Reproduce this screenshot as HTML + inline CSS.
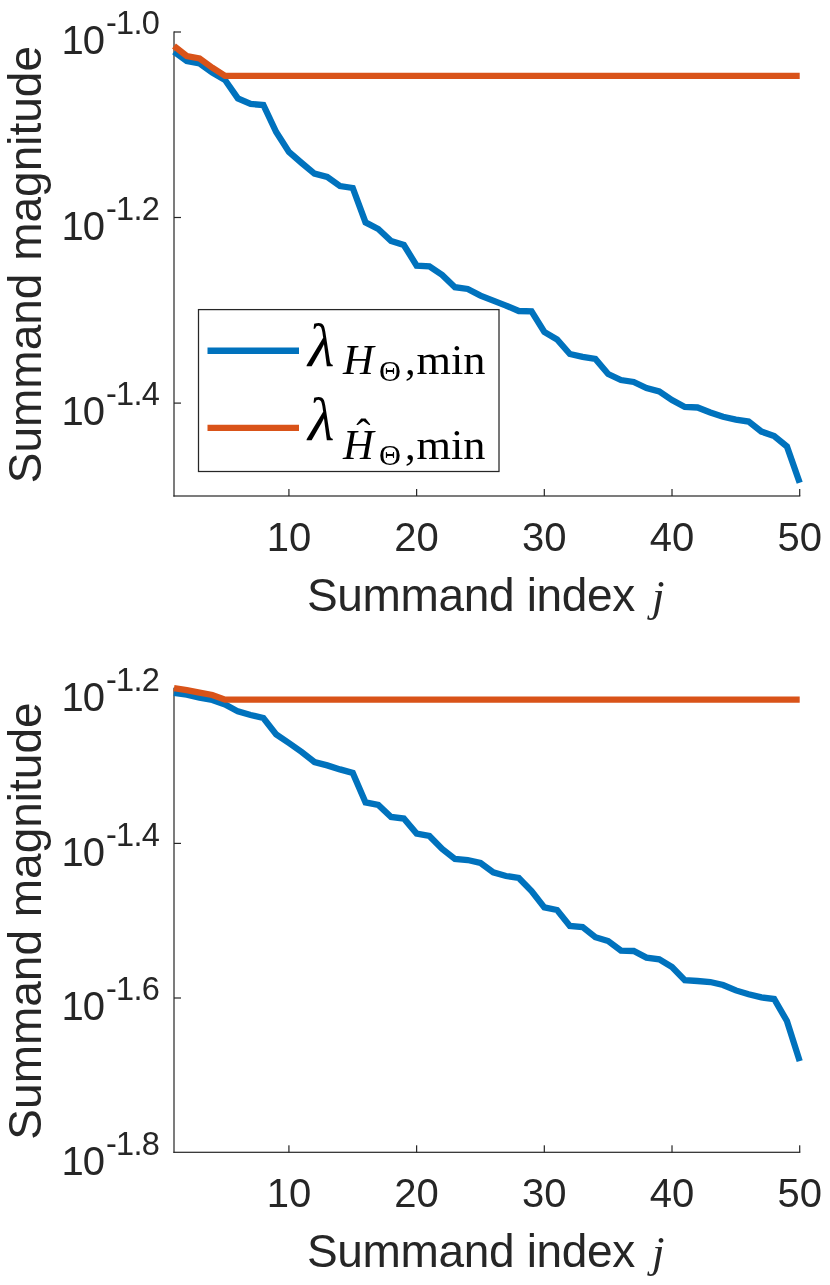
<!DOCTYPE html>
<html><head><meta charset="utf-8"><title>Summand magnitude</title>
<style>
html,body{margin:0;padding:0;background:#fff;}
body{width:830px;height:1285px;overflow:hidden;}
svg{display:block;will-change:transform;}
.t{font-family:"Liberation Sans",sans-serif;fill:#262626;}
.m{font-family:"Liberation Serif",serif;fill:#000;}
.mi{font-family:"Liberation Serif",serif;font-style:italic;fill:#000;}
</style></head><body>
<svg width="830" height="1285" viewBox="0 0 830 1285">
<rect width="830" height="1285" fill="#fff"/>
<rect x="173.40" y="31.40" width="1.20" height="465.20" fill="#262626"/>
<rect x="173.40" y="495.40" width="626.90" height="1.20" fill="#262626"/>
<rect x="288.32" y="489.00" width="1.20" height="7.00" fill="#262626"/>
<rect x="416.02" y="489.00" width="1.20" height="7.00" fill="#262626"/>
<rect x="543.71" y="489.00" width="1.20" height="7.00" fill="#262626"/>
<rect x="671.41" y="489.00" width="1.20" height="7.00" fill="#262626"/>
<rect x="799.10" y="489.00" width="1.20" height="7.00" fill="#262626"/>
<rect x="174.00" y="31.40" width="7.00" height="1.20" fill="#262626"/>
<rect x="174.00" y="216.90" width="7.00" height="1.20" fill="#262626"/>
<rect x="174.00" y="402.50" width="7.00" height="1.20" fill="#262626"/>
<polyline points="174.00,51.80 186.77,61.00 199.54,63.40 212.31,72.60 225.08,80.00 237.85,98.40 250.62,104.00 263.39,105.00 276.16,132.00 288.92,152.00 301.69,163.00 314.46,173.60 327.23,177.00 340.00,186.00 352.77,188.00 365.54,222.40 378.31,229.00 391.08,241.00 403.85,245.00 416.62,265.60 429.39,266.40 442.16,275.00 454.93,287.20 467.70,289.00 480.47,295.60 493.23,300.60 506.00,305.60 518.77,311.00 531.54,311.40 544.31,332.00 557.08,339.40 569.85,354.00 582.62,356.90 595.39,359.00 608.16,374.00 620.93,380.00 633.70,382.00 646.47,388.00 659.24,391.40 672.01,400.00 684.78,407.00 697.54,407.50 710.31,412.50 723.08,416.70 735.85,419.60 748.62,421.60 761.39,431.60 774.16,436.00 786.93,446.50 799.70,482.70" fill="none" stroke="#0072BD" stroke-width="6.3" stroke-linejoin="miter" stroke-linecap="butt"/>
<polyline points="174.00,46.00 186.77,56.00 199.54,58.50 212.31,67.70 225.08,75.90 237.85,75.90 250.62,75.90 263.39,75.90 276.16,75.90 288.92,75.90 301.69,75.90 314.46,75.90 327.23,75.90 340.00,75.90 352.77,75.90 365.54,75.90 378.31,75.90 391.08,75.90 403.85,75.90 416.62,75.90 429.39,75.90 442.16,75.90 454.93,75.90 467.70,75.90 480.47,75.90 493.23,75.90 506.00,75.90 518.77,75.90 531.54,75.90 544.31,75.90 557.08,75.90 569.85,75.90 582.62,75.90 595.39,75.90 608.16,75.90 620.93,75.90 633.70,75.90 646.47,75.90 659.24,75.90 672.01,75.90 684.78,75.90 697.54,75.90 710.31,75.90 723.08,75.90 735.85,75.90 748.62,75.90 761.39,75.90 774.16,75.90 786.93,75.90 799.70,75.90" fill="none" stroke="#D95319" stroke-width="6.3" stroke-linejoin="miter" stroke-linecap="butt"/>
<text x="61.6" y="54.3" font-size="40" letter-spacing="-1" class="t">10</text><text x="106" y="34.3" font-size="32.5" letter-spacing="-0.7" class="t">-1.0</text>
<text x="61.6" y="239.8" font-size="40" letter-spacing="-1" class="t">10</text><text x="106" y="219.8" font-size="32.5" letter-spacing="-0.7" class="t">-1.2</text>
<text x="61.6" y="425.4" font-size="40" letter-spacing="-1" class="t">10</text><text x="106" y="405.4" font-size="32.5" letter-spacing="-0.7" class="t">-1.4</text>
<text x="288.92" y="550.9" font-size="40" class="t" text-anchor="middle">10</text>
<text x="416.62" y="550.9" font-size="40" class="t" text-anchor="middle">20</text>
<text x="544.31" y="550.9" font-size="40" class="t" text-anchor="middle">30</text>
<text x="672.01" y="550.9" font-size="40" class="t" text-anchor="middle">40</text>
<text x="799.70" y="550.9" font-size="40" class="t" text-anchor="middle">50</text>
<text x="306.9" y="610.8" font-size="46" letter-spacing="-0.33" class="t">Summand index</text>
<text x="652" y="610.8" font-size="45" font-family="'Liberation Serif',serif" font-style="italic" fill="#262626">j</text>
<text transform="translate(40.8,264.6) rotate(-90)" font-size="46" class="t" text-anchor="middle">Summand magnitude</text>
<rect x="198.5" y="309.6" width="300.5" height="161.9" fill="#fff" stroke="#262626" stroke-width="1.25"/>
<line x1="207.5" y1="350.75" x2="299" y2="350.75" stroke="#0072BD" stroke-width="6.3"/>
<line x1="207.5" y1="427.8" x2="299" y2="427.8" stroke="#D95319" stroke-width="6.3"/>
<text x="308" y="365.5" font-size="61" class="mi">λ</text>
<text x="343" y="374.4" font-size="42.6" class="mi">H</text>
<text x="379" y="380.8" font-size="30.4" class="m">Θ</text>
<text x="405" y="374.4" font-size="42.6" class="m">,</text>
<text x="416.5" y="374.4" font-size="42.6" class="m" textLength="69" lengthAdjust="spacingAndGlyphs">min</text>
<text x="308" y="439.7" font-size="61" class="mi">λ</text>
<text x="343" y="458.5" font-size="42.6" class="mi">H</text>
<text x="363.4" y="448" font-size="42.6" class="m" text-anchor="middle">ˆ</text>
<text x="379" y="464.9" font-size="30.4" class="m">Θ</text>
<text x="405" y="458.5" font-size="42.6" class="m">,</text>
<text x="416.5" y="458.5" font-size="42.6" class="m" textLength="69" lengthAdjust="spacingAndGlyphs">min</text>
<rect x="173.40" y="687.70" width="1.20" height="465.20" fill="#262626"/>
<rect x="173.40" y="1151.70" width="626.90" height="1.20" fill="#262626"/>
<rect x="288.32" y="1145.30" width="1.20" height="7.00" fill="#262626"/>
<rect x="416.02" y="1145.30" width="1.20" height="7.00" fill="#262626"/>
<rect x="543.71" y="1145.30" width="1.20" height="7.00" fill="#262626"/>
<rect x="671.41" y="1145.30" width="1.20" height="7.00" fill="#262626"/>
<rect x="799.10" y="1145.30" width="1.20" height="7.00" fill="#262626"/>
<rect x="174.00" y="687.70" width="7.00" height="1.20" fill="#262626"/>
<rect x="174.00" y="842.80" width="7.00" height="1.20" fill="#262626"/>
<rect x="174.00" y="997.40" width="7.00" height="1.20" fill="#262626"/>
<polyline points="174.00,692.80 186.77,694.60 199.54,697.60 212.31,700.00 225.08,704.40 237.85,711.40 250.62,715.00 263.39,718.00 276.16,734.40 288.92,743.00 301.69,752.00 314.46,762.00 327.23,765.40 340.00,769.40 352.77,773.00 365.54,802.40 378.31,805.00 391.08,817.00 403.85,818.50 416.62,833.60 429.39,836.00 442.16,849.00 454.93,859.00 467.70,860.00 480.47,863.00 493.23,872.40 506.00,876.00 518.77,878.00 531.54,891.00 544.31,907.40 557.08,910.00 569.85,926.00 582.62,927.00 595.39,937.20 608.16,941.00 620.93,950.60 633.70,951.00 646.47,957.60 659.24,959.40 672.01,967.00 684.78,980.20 697.54,981.00 710.31,982.00 723.08,985.00 735.85,990.40 748.62,994.20 761.39,997.40 774.16,999.00 786.93,1021.00 799.70,1061.10" fill="none" stroke="#0072BD" stroke-width="6.3" stroke-linejoin="miter" stroke-linecap="butt"/>
<polyline points="174.00,688.20 186.77,690.20 199.54,692.60 212.31,695.00 225.08,699.60 237.85,699.60 250.62,699.60 263.39,699.60 276.16,699.60 288.92,699.60 301.69,699.60 314.46,699.60 327.23,699.60 340.00,699.60 352.77,699.60 365.54,699.60 378.31,699.60 391.08,699.60 403.85,699.60 416.62,699.60 429.39,699.60 442.16,699.60 454.93,699.60 467.70,699.60 480.47,699.60 493.23,699.60 506.00,699.60 518.77,699.60 531.54,699.60 544.31,699.60 557.08,699.60 569.85,699.60 582.62,699.60 595.39,699.60 608.16,699.60 620.93,699.60 633.70,699.60 646.47,699.60 659.24,699.60 672.01,699.60 684.78,699.60 697.54,699.60 710.31,699.60 723.08,699.60 735.85,699.60 748.62,699.60 761.39,699.60 774.16,699.60 786.93,699.60 799.70,699.60" fill="none" stroke="#D95319" stroke-width="6.3" stroke-linejoin="miter" stroke-linecap="butt"/>
<text x="61.6" y="710.6" font-size="40" letter-spacing="-1" class="t">10</text><text x="106" y="690.6" font-size="32.5" letter-spacing="-0.7" class="t">-1.2</text>
<text x="61.6" y="865.7" font-size="40" letter-spacing="-1" class="t">10</text><text x="106" y="845.7" font-size="32.5" letter-spacing="-0.7" class="t">-1.4</text>
<text x="61.6" y="1020.3" font-size="40" letter-spacing="-1" class="t">10</text><text x="106" y="1000.3" font-size="32.5" letter-spacing="-0.7" class="t">-1.6</text>
<text x="61.6" y="1174.6" font-size="40" letter-spacing="-1" class="t">10</text><text x="106" y="1154.6" font-size="32.5" letter-spacing="-0.7" class="t">-1.8</text>
<text x="288.92" y="1207.1" font-size="40" class="t" text-anchor="middle">10</text>
<text x="416.62" y="1207.1" font-size="40" class="t" text-anchor="middle">20</text>
<text x="544.31" y="1207.1" font-size="40" class="t" text-anchor="middle">30</text>
<text x="672.01" y="1207.1" font-size="40" class="t" text-anchor="middle">40</text>
<text x="799.70" y="1207.1" font-size="40" class="t" text-anchor="middle">50</text>
<text x="306.9" y="1266.8" font-size="46" letter-spacing="-0.33" class="t">Summand index</text>
<text x="652" y="1266.8" font-size="45" font-family="'Liberation Serif',serif" font-style="italic" fill="#262626">j</text>
<text transform="translate(40.8,921) rotate(-90)" font-size="46" class="t" text-anchor="middle">Summand magnitude</text>
</svg>
</body></html>
